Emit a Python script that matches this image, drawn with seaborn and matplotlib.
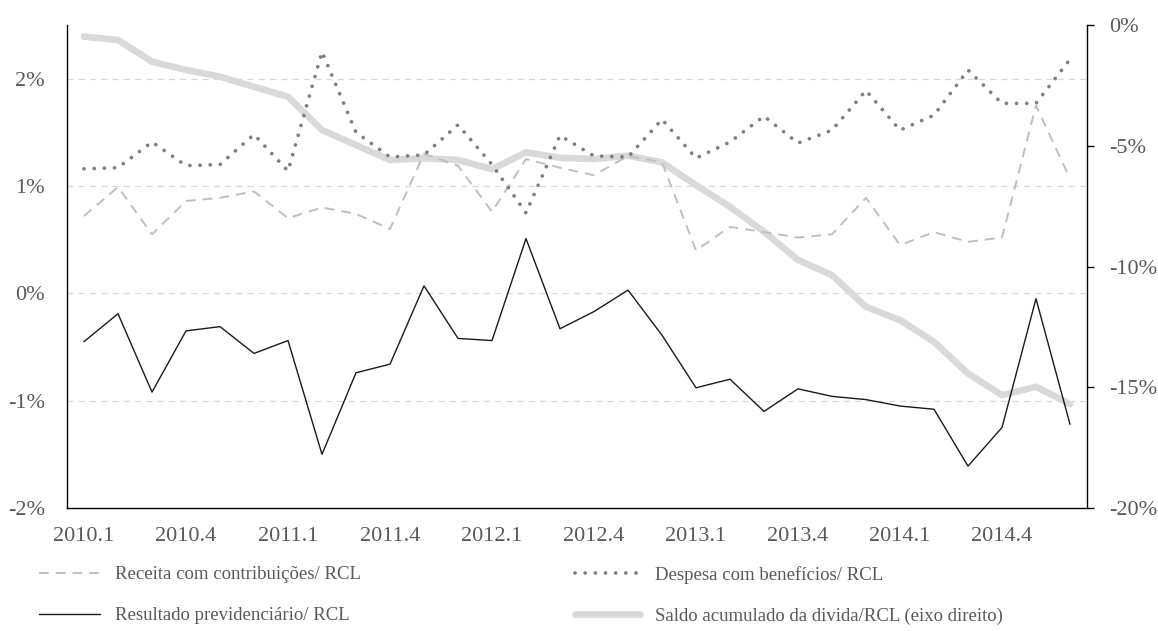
import numpy as np
import pandas as pd
import matplotlib
matplotlib.use("Agg")
import matplotlib.pyplot as plt
from matplotlib.ticker import FixedLocator, FuncFormatter
from matplotlib.lines import Line2D
import seaborn as sns

# ---------------- data ----------------
periodos = [
    "2010.1", "2010.2", "2010.3", "2010.4", "2010.5", "2010.6",
    "2011.1", "2011.2", "2011.3", "2011.4", "2011.5", "2011.6",
    "2012.1", "2012.2", "2012.3", "2012.4", "2012.5", "2012.6",
    "2013.1", "2013.2", "2013.3", "2013.4", "2013.5", "2013.6",
    "2014.1", "2014.2", "2014.3", "2014.4", "2014.5", "2014.6",
]
rotulos_x = ["2010.1", "2010.4", "2011.1", "2011.4", "2012.1",
             "2012.4", "2013.1", "2013.4", "2014.1", "2014.4"]

receita = [0.72, 0.99, 0.55, 0.86, 0.89, 0.95, 0.70, 0.80, 0.74, 0.60,
           1.30, 1.19, 0.76, 1.25, 1.17, 1.10, 1.28, 1.22, 0.40, 0.62,
           0.57, 0.52, 0.55, 0.89, 0.45, 0.57, 0.48, 0.52, 1.75, 1.07]
despesa = [1.16, 1.17, 1.41, 1.19, 1.20, 1.48, 1.14, 2.25, 1.50, 1.27,
           1.29, 1.57, 1.20, 0.75, 1.47, 1.28, 1.27, 1.62, 1.26, 1.41,
           1.65, 1.40, 1.52, 1.89, 1.52, 1.66, 2.08, 1.77, 1.77, 2.18]
resultado = [-0.45, -0.19, -0.92, -0.35, -0.31, -0.56, -0.44, -1.50, -0.74, -0.66,
             0.07, -0.42, -0.44, 0.51, -0.33, -0.17, 0.03, -0.39, -0.88, -0.80,
             -1.10, -0.89, -0.96, -0.99, -1.05, -1.08, -1.61, -1.25, -0.05, -1.22]
saldo = [-0.48, -0.62, -1.52, -1.86, -2.14, -2.56, -2.97, -4.35, -4.97, -5.59,
         -5.52, -5.59, -5.97, -5.27, -5.50, -5.55, -5.41, -5.69, -6.63, -7.53,
         -8.56, -9.73, -10.36, -11.67, -12.22, -13.12, -14.43, -15.33, -14.98, -15.70]

nomes = ["Receita com contribuições/ RCL", "Despesa com benefícios/ RCL",
         "Resultado previdenciário/ RCL", "Saldo acumulado da divida/RCL (eixo direito)"]

df = pd.DataFrame({"periodo": periodos, "receita": receita, "despesa": despesa,
                   "resultado": resultado, "saldo": saldo})
df["pos"] = np.arange(len(df))

# ---------------- style ----------------
sns.set_theme(style="white")
plt.rcParams["font.family"] = ["Liberation Serif", "DejaVu Serif"]
plt.rcParams["axes.unicode_minus"] = False

TXT = "#595959"
C_REC = "#bfbfbf"
C_DES = "#7f7f7f"
C_RES = "#1a1a1a"
C_SAL = "#d9d9d9"

fig = plt.figure(figsize=(11.58, 6.31), dpi=100)
ax = fig.add_axes([67 / 1158, 1 - 508 / 631, (1087 - 67) / 1158, (508 - 25) / 631])
ax2 = ax.twinx()

# secondary axis line (drawn behind the primary axes)
sns.lineplot(data=df, x="pos", y="saldo", ax=ax2, color=C_SAL, linewidth=4.8,
             solid_capstyle="round", solid_joinstyle="round")

sns.lineplot(data=df, x="pos", y="receita", ax=ax, color=C_REC, linewidth=1.4,
             linestyle=(0, (5, 3.6)))
sns.lineplot(data=df, x="pos", y="despesa", ax=ax, color=C_DES, linewidth=2.7,
             linestyle=(0, (0.01, 2.7)), dash_capstyle="round")
sns.lineplot(data=df, x="pos", y="resultado", ax=ax, color=C_RES, linewidth=1.0)

ax.set_zorder(ax2.get_zorder() + 1)
ax.patch.set_visible(False)

# axes limits / ticks
ax.set_xlim(-0.5, len(df) - 0.5)
ax.set_ylim(-2, 2.5)
ax2.set_ylim(-20, 0)

ax.yaxis.set_major_locator(FixedLocator([-2, -1, 0, 1, 2]))
ax.yaxis.set_major_formatter(FuncFormatter(lambda v, p: f"{v:.0f}%"))
ax2.yaxis.set_major_locator(FixedLocator([-20, -15, -10, -5, 0]))
ax2.yaxis.set_major_formatter(FuncFormatter(lambda v, p: f"{v:.0f}%"))

xt = [periodos.index(r) for r in rotulos_x]
ax.set_xticks(xt)
ax.set_xticklabels(rotulos_x)

ax.set_xlabel("")
ax.set_ylabel("")
ax2.set_ylabel("")

ax.tick_params(axis="x", length=0, pad=14, labelsize=16, labelcolor=TXT)
ax.tick_params(axis="y", length=0, pad=16, labelsize=16, labelcolor=TXT)
ax2.tick_params(axis="y", length=5, width=1, color="black", direction="out",
                pad=11, labelsize=16, labelcolor=TXT, right=True)

# grid
for v in [-1, 0, 1, 2]:
    ax.axhline(v, color="#d9d9d9", linewidth=0.9, linestyle=(0, (5, 4)), zorder=0)
ax.grid(False)
ax2.grid(False)

# spines
for s in ["top", "right"]:
    ax.spines[s].set_visible(False)
for s in ["left", "bottom"]:
    ax.spines[s].set_color("black")
    ax.spines[s].set_linewidth(1.0)
for s in ["top", "left", "bottom"]:
    ax2.spines[s].set_visible(False)
ax2.spines["right"].set_color("black")
ax2.spines["right"].set_linewidth(1.0)

# legend
h_rec = Line2D([], [], color=C_REC, linewidth=1.4, linestyle=(0, (5, 3.6)))
h_des = Line2D([], [], color=C_DES, linewidth=2.7, linestyle=(0, (0.01, 2.7)),
               dash_capstyle="round")
h_res = Line2D([], [], color=C_RES, linewidth=1.0)
h_sal = Line2D([], [], color=C_SAL, linewidth=4.8, solid_capstyle="round")

fs = 13.5
common = dict(frameon=False, fontsize=fs, labelcolor=TXT, borderpad=0,
              borderaxespad=0, handletextpad=0.8, labelspacing=1.27, loc="upper left")
fig.legend([h_rec, h_res], [nomes[0], nomes[2]], handlelength=3.25,
           bbox_to_anchor=(39 / 1158, 1 - 566 / 631), **common)
fig.legend([h_des, h_sal], [nomes[1], nomes[3]], handlelength=3.45,
           bbox_to_anchor=(575 / 1158, 1 - 566 / 631), **common)

fig.savefig("out.png", dpi=100)
